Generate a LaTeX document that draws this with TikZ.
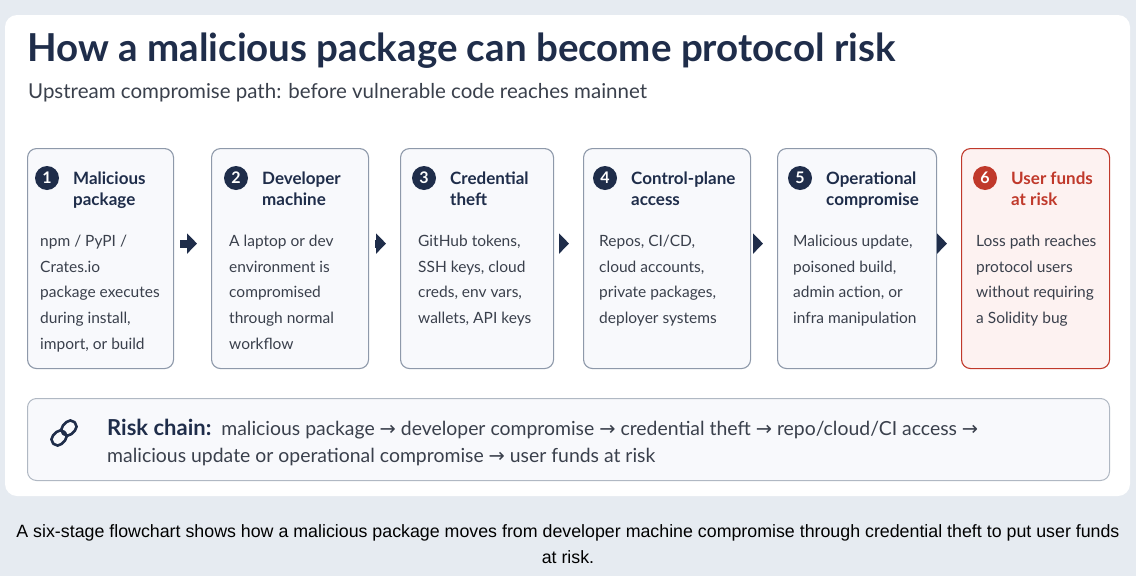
\documentclass[tikz,border=0pt]{standalone}
\usepackage{fontspec}
\setmainfont{Lato}
\newfontfamily\symfont{DejaVu Sans}
\newfontfamily\capfont{Liberation Sans}
\usetikzlibrary{arrows.meta}
\usetikzlibrary{positioning}

\definecolor{navy}{HTML}{1F2D4A}
\definecolor{bodygray}{HTML}{3A404C}
\definecolor{edgegray}{HTML}{8E99AA}
\definecolor{cardfill}{HTML}{F8F9FC}
\definecolor{riskred}{HTML}{C0392B}
\definecolor{riskfill}{HTML}{FDF2F1}
\definecolor{pagebg}{HTML}{E6EBF1}

\newcommand{\stagebox}[8]{%
  % #1 name, #2 x, #3 width, #4 circle dx, #5 number, #6 title, #7 body dx, #8 body
  \node[stage, minimum width=#3, anchor=north west] (#1) at (#2,148) {};
  \node[num] (#1n) at ([xshift=#4, yshift=-30]#1.north west) {#5};
  \node[stagetitle, anchor=north west] (#1t) at ([xshift=26, yshift=8.5]#1n.center) {\strut#6};
  \node[stagebody, anchor=north west] (#1b) at ([xshift=#7, yshift=-80]#1.north west) {\strut#8};
}

\begin{document}
\begin{tikzpicture}[x=1pt, y=-1pt,
  stage/.style={draw=edgegray, fill=cardfill, rounded corners=9, line width=1.1, minimum height=220},
  num/.style={circle, fill=navy, text=white, inner sep=0, minimum size=24, font=\fontsize{16}{16}\selectfont\bfseries},
  stagetitle/.style={align=left, inner sep=0, text=navy, font=\fontsize{17}{21}\selectfont\bfseries},
  stagebody/.style={align=left, inner sep=0, text=bodygray, font=\fontsize{15.5}{25.8}\selectfont},
  flow/.style={navy, line width=8, -{Triangle[length=10, width=20]}, shorten <=6, shorten >=14}]
% page and card
\fill[pagebg] (0,0) rectangle (1136,576);
\useasboundingbox (0,0) rectangle (1136,576);
\fill[white, rounded corners=12] (5,15) rectangle (1130,496);

% headings
\node[anchor=base west, inner sep=0, text=navy, font=\fontsize{38.5}{38}\selectfont\bfseries] (title) at (27,61) {How a malicious package can become protocol risk};
\node[anchor=base west, inner sep=0, text=bodygray, font=\fontsize{20.5}{20}\selectfont] (subtitle) at (28,98) {Upstream compromise path: before vulnerable code reaches mainnet};

% stages
\stagebox{s1}{27}{146}{20}{1}{Malicious\\package}{13}{npm / PyPI /\\Crates.io\\package executes\\during install,\\import, or build}
\stagebox{s2}{211}{157}{25}{2}{Developer\\machine}{18}{A laptop or dev\\environment is\\compromised\\through normal\\workflow}
\stagebox{s3}{400}{153}{24}{3}{Credential\\theft}{18}{GitHub tokens,\\SSH keys, cloud\\creds, env vars,\\wallets, API keys}
\stagebox{s4}{583}{167}{22}{4}{Control-plane\\access}{16}{Repos, CI/CD,\\cloud accounts,\\private packages,\\deployer systems}
\stagebox{s5}{777}{159}{23}{5}{Operational\\compromise}{16}{Malicious update,\\poisoned build,\\admin action, or\\infra manipulation}
\node[stage, minimum width=148, anchor=north west, draw=riskred, fill=riskfill] (s6) at (961,148) {};
\node[num, fill=riskred] (s6n) at ([xshift=24, yshift=-30]s6.north west) {6};
\node[stagetitle, anchor=north west, text=riskred] (s6t) at ([xshift=26, yshift=8.5]s6n.center) {\strut User funds\\at risk};
\node[stagebody, anchor=north west] (s6b) at ([xshift=15, yshift=-80]s6.north west) {\strut Loss path reaches\\protocol users\\without requiring\\a Solidity bug};

% arrows
\foreach \a/\b in {s1/s2, s2/s3, s3/s4, s4/s5, s5/s6}
  \draw[flow] ([yshift=15]\a.east) -- ([yshift=15]\b.west);

% risk chain
\node[draw=edgegray!70, fill=cardfill, rounded corners=9, line width=1, minimum width=1082, minimum height=82, anchor=north west] (chain) at (27,398) {};
\begin{scope}[shift={(64,433)}, rotate=-45, navy, line width=2.6]
  \draw[rounded corners=5.5] (-6,-15) rectangle (6,1);
  \draw[rounded corners=5.5] (-6,-1) rectangle (6,15);
\end{scope}
\node[anchor=north west, inner sep=0, text=bodygray, align=left, font=\fontsize{19.4}{27.5}\selectfont] (chaintext) at (107,416)
  {\strut{\color{navy}\fontsize{22}{27}\selectfont\bfseries Risk chain:}\ \ malicious package {\symfont →} developer compromise {\symfont →} credential theft {\symfont →} repo/cloud/CI access {\symfont →}\\
   malicious update or operational compromise {\symfont →} user funds at risk};

% caption
\node[anchor=north, inner sep=0, align=center, font=\capfont\fontsize{17.8}{26}\selectfont] (caption) at (568,519)
  {\strut A six-stage flowchart shows how a malicious package moves from developer machine compromise through credential theft to put user funds\\at risk.};
\end{tikzpicture}
\end{document}
